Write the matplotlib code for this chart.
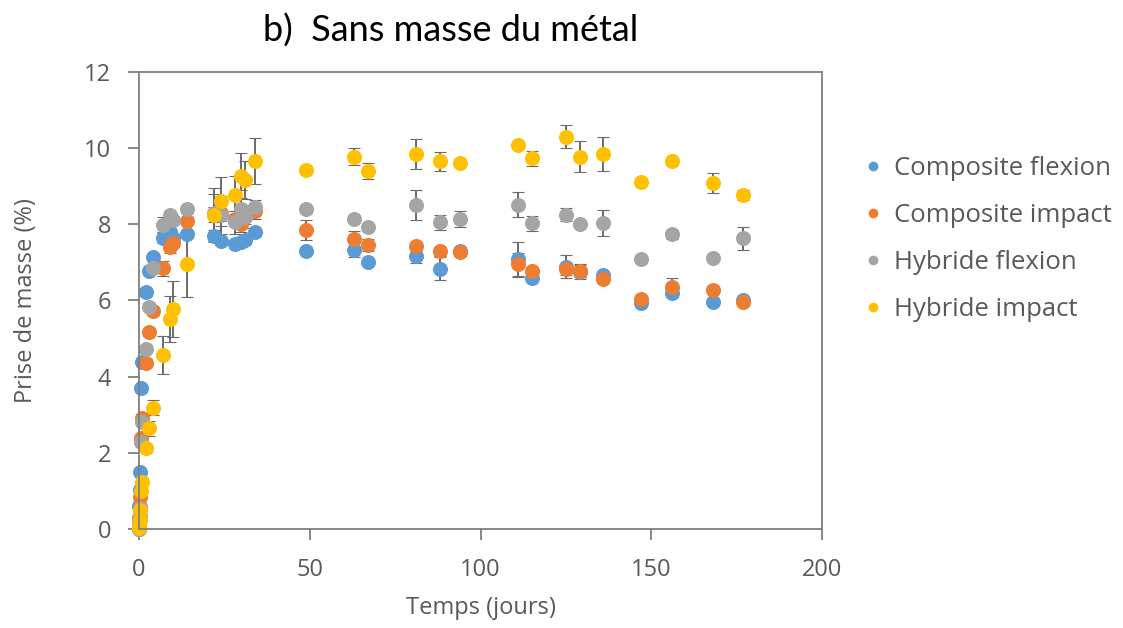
import matplotlib
matplotlib.use("Agg")
import matplotlib.pyplot as plt
from matplotlib.lines import Line2D

plt.rcParams["font.family"] = ["Open Sans", "DejaVu Sans"]

# time points (days)
days = [0, 0.1, 0.2, 0.3, 0.5, 1, 2, 3, 4, 7, 9, 10, 14,
        22, 24, 28, 30, 31, 34, 49, 63, 67, 81, 88, 94,
        111, 115, 125, 129, 136, 147, 156, 168, 177]

comp_flex = [0, 0.6, 1.02, 1.49, 3.69, 4.38, 6.23, 6.78, 7.13, 7.65, 7.79, 7.65, 7.74,
             7.69, 7.55, 7.48, 7.53, 7.59, 7.79, 7.30, 7.33, 7.02, 7.18, 6.83, 7.30,
             7.08, 6.60, 6.89, 6.76, 6.67, 5.93, 6.19, 5.95, 6.01]
comp_flex_err = [0, 0, 0, 0, 0.1, 0.1, 0.1, 0.1, 0.1, 0.15, 0.1, 0.1, 0,
                 0.15, 0.1, 0.1, 0.1, 0.1, 0.1, 0.05, 0.2, 0.05, 0.2, 0.3, 0.05,
                 0.45, 0.05, 0.3, 0.2, 0.05, 0.05, 0.05, 0.05, 0.05]

comp_imp = [0, 0.3, 0.59, 0.85, 2.38, 2.91, 4.37, 5.17, 5.73, 6.85, 7.40, 7.50, 8.10,
            8.25, 8.30, 8.15, 8.00, 8.20, 8.35, 7.85, 7.62, 7.46, 7.43, 7.29, 7.27,
            6.95, 6.78, 6.82, 6.78, 6.56, 6.04, 6.35, 6.28, 5.97]
comp_imp_err = [0, 0, 0, 0, 0.1, 0.1, 0.1, 0.1, 0.1, 0.2, 0.15, 0.1, 0.1,
                0.2, 0.2, 0.2, 0.2, 0.2, 0.2, 0.26, 0.2, 0.15, 0.1, 0.12, 0.1,
                0.3, 0.1, 0.15, 0.15, 0.1, 0.05, 0.25, 0.1, 0.1]

hyb_flex = [0, 0.2, 0.33, 0.54, 2.29, 2.82, 4.73, 5.84, 6.85, 7.98, 8.25, 8.11, 8.40,
            8.30, 8.25, 8.05, 8.40, 8.20, 8.45, 8.41, 8.14, 7.92, 8.51, 8.05, 8.14,
            8.51, 8.03, 8.25, 8.00, 8.03, 7.08, 7.74, 7.11, 7.63]
hyb_flex_err = [0, 0, 0, 0, 0.1, 0.1, 0.1, 0.1, 0.1, 0.2, 0.1, 0.1, 0.1,
                0.5, 0.5, 0.3, 0.5, 0.3, 0.2, 0.1, 0.05, 0.05, 0.39, 0.2, 0.22,
                0.33, 0.2, 0.17, 0.05, 0.34, 0.1, 0.12, 0.05, 0.3]

hyb_imp = [0.02, 0.14, 0.25, 0.5, 1.0, 1.24, 2.12, 2.64, 3.19, 4.57, 5.51, 5.77, 6.95,
           8.25, 8.60, 8.77, 9.28, 9.16, 9.67, 9.43, 9.78, 9.40, 9.84, 9.65, 9.62,
           10.07, 9.73, 10.30, 9.78, 9.84, 9.10, 9.65, 9.08, 8.77]
hyb_imp_err = [0, 0, 0, 0, 0, 0.1, 0.1, 0.2, 0.2, 0.49, 0.6, 0.73, 0.87,
               0.7, 0.65, 0.5, 0.6, 0.5, 0.6, 0.1, 0.22, 0.2, 0.4, 0.26, 0.02,
               0.02, 0.2, 0.3, 0.4, 0.45, 0.02, 0.1, 0.27, 0.12]

labels = ["Composite flexion", "Composite impact", "Hybride flexion", "Hybride impact"]
colors = ["#5B9BD5", "#ED7D31", "#A5A5A5", "#FFC000"]
series = [(comp_flex, comp_flex_err), (comp_imp, comp_imp_err),
          (hyb_flex, hyb_flex_err), (hyb_imp, hyb_imp_err)]

fig = plt.figure(figsize=(11.23, 6.28), dpi=100)
ax = fig.add_axes([0.1238, 0.1576, 0.6082, 0.7278])

for (vals, errs), c in zip(series, colors):
    cont = ax.errorbar(days, vals, yerr=errs, fmt="o", color=c, markersize=10,
                       markeredgewidth=0.8, markeredgecolor=c, ecolor="#6b6b6b",
                       elinewidth=1.4, capsize=4, capthick=1.4)
    for art in cont.get_children():
        art.set_clip_on(False)

ax.set_xlim(0, 200)
ax.set_ylim(0, 12)
ax.set_xticks([0, 50, 100, 150, 200])
ax.set_yticks([0, 2, 4, 6, 8, 10, 12])
for s in ax.spines.values():
    s.set_color("#7f7f7f")
    s.set_linewidth(1.3)
ax.tick_params(direction="out", length=8, width=1.3, color="#7f7f7f",
               labelcolor="#595959", labelsize=17)
ax.tick_params(axis="x", pad=13)
ax.tick_params(axis="y", pad=12)
ax.set_xlabel("Temps (jours)", fontsize=17, color="#595959", labelpad=10)
ax.set_ylabel("Prise de masse (%)", fontsize=17, color="#595959", labelpad=33)

fig.text(0.4016, 0.952, "b)  Sans masse du métal", fontsize=26, ha="center",
         va="center", color="black", family=["Lato", "DejaVu Sans"])

handles = [Line2D([], [], linestyle="none", marker="o", color=c, markersize=7,
                  markeredgewidth=0) for c in colors]
fig.legend(handles, labels, loc="upper left", bbox_to_anchor=(0.75, 0.788),
           frameon=False, fontsize=18.5, handlelength=0.6, handletextpad=0.5,
           labelspacing=0.85, labelcolor="#595959")

fig.savefig("out.png", dpi=100)
